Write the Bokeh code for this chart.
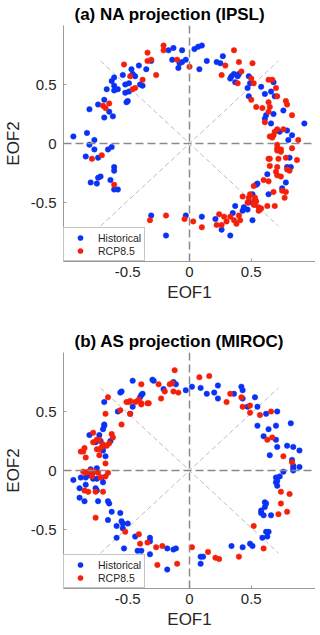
from bokeh.plotting import figure
from bokeh.layouts import column
from bokeh.models import Span, Legend, LegendItem, FixedTicker, Range1d
from bokeh.embed import file_html
from bokeh.resources import INLINE

FONT = "Liberation Sans"
TICKS = [-0.5, 0, 0.5]
TICK_LABELS = {-0.5: "-0.5", 0: "0", 0.5: "0.5"}
SERIES = ["Historical", "RCP8.5"]
COLORS = ["#0a32f5", "#f5200a"]

# reference diagonals (dashed, through origin)
DIAG_A_X = [-0.72, 0.72]
DIAG_A_Y = [0.70, -0.70]
DIAG_B_X = [-0.72, 0.72]
DIAG_B_Y = [-0.70, 0.70]

# (a) NA projection (IPSL)
na_hist_x = [-0.94, -0.83, -0.77, -0.81, -0.74, -0.69, -0.65, -0.69, -0.62, -0.67,
             -0.63, -0.61, -0.61, -0.61, -0.58, -0.54, -0.52, -0.52, -0.49, -0.49,
             -0.51, -0.47, -0.46, -0.44, -0.40, -0.38, -0.41, -0.35, -0.31, -0.17,
             -0.13, -0.14, -0.09, -0.08, -0.06, -0.03, -0.06, -0.50,
             0.04, 0.07, 0.10, 0.08, 0.14, 0.22, 0.25, 0.27, 0.34, 0.36,
             0.40, 0.37, 0.48, 0.49, 0.47, 0.48, 0.58, 0.61, 0.66, 0.68,
             0.69, 0.76, 0.68, 0.62, 0.61, 0.66, 0.73, 0.79, 0.83, 0.80,
             0.93, 0.33, 0.39,
             -0.81, -0.77, -0.84, -0.74, -0.66, -0.63, -0.61, -0.61, -0.74, -0.72,
             -0.80, -0.75, -0.64, -0.61, -0.58, -0.57, -0.31, -0.19, -0.03,
             0.81, 0.79, 0.82, 0.78, 0.75, 0.63, 0.54, 0.55, 0.64, 0.51,
             0.48, 0.44, 0.47, 0.43, 0.37, 0.35, 0.51, 0.26, 0.21, 0.10, 0.33]
na_hist_y = [0.06, 0.09, 0.03, 0.29, 0.33, 0.37, 0.27, 0.22, 0.23, 0.46,
             0.53, 0.56, 0.49, 0.45, 0.46, 0.58, 0.50, 0.43, 0.44, 0.51,
             0.35, 0.63, 0.59, 0.57, 0.50, 0.49, 0.66, 0.63, 0.70, 0.79,
             0.81, 0.71, 0.64, 0.68, 0.69, 0.71, 0.79, 0.36,
             0.80, 0.82, 0.83, 0.63, 0.70, 0.69, 0.68, 0.74, 0.57, 0.59,
             0.59, 0.52, 0.57, 0.51, 0.47, 0.40, 0.48, 0.42, 0.44, 0.52,
             0.40, 0.28, 0.25, 0.24, 0.21, 0.17, 0.10, 0.11, 0.07, 0.03,
             0.17, 0.55, 0.57,
             -0.01, -0.05, -0.11, -0.12, -0.05, -0.03, -0.20, -0.23, -0.29, -0.28,
             -0.33, -0.34, -0.31, -0.39, -0.39, -0.74, -0.61, -0.78, -0.61,
             -0.12, -0.20, -0.20, -0.33, -0.38, -0.26, -0.35, -0.34, -0.43, -0.43,
             -0.50, -0.54, -0.56, -0.57, -0.53, -0.59, -0.65, -0.73, -0.64, -0.62, -0.78]
na_rcp_x = [-0.21, -0.21, -0.34, -0.34, -0.31, -0.53, -0.48, -0.38, -0.27, -0.46,
            -0.65, -0.70, -0.68, -0.10, 0.00, -0.44,
            0.36, 0.40, 0.29, 0.26, 0.42, 0.39, 0.51, 0.50, 0.52, 0.64,
            0.67, 0.70, 0.71, 0.64, 0.65, 0.64, 0.50, 0.54, 0.59, 0.78,
            0.79, 0.83, 0.61, 0.71, 0.76, 0.69, 0.65, 0.67, 0.68, 0.71, 0.88,
            -0.79, -0.71, -0.61, -0.32, -0.19, -0.04,
            0.71, 0.71, 0.74, 0.74, 0.83, 0.78, 0.87, 0.64, 0.65, 0.72,
            0.65, 0.71, 0.70, 0.71, 0.74, 0.79, 0.81, 0.60, 0.64, 0.52,
            0.75, 0.78, 0.68, 0.77, 0.69, 0.63, 0.43, 0.49, 0.48, 0.53,
            0.52, 0.54, 0.47, 0.52, 0.53, 0.56, 0.57, 0.58, 0.56, 0.40,
            0.24, 0.28, 0.33, 0.36, 0.41, 0.38, 0.30, 0.22, 0.26, 0.03, 0.10]
na_rcp_y = [0.83, 0.79, 0.77, 0.70, 0.71, 0.67, 0.57, 0.54, 0.58, 0.46,
            0.34, 0.32, 0.30, 0.71, 0.65, 0.47,
            0.79, 0.69, 0.66, 0.58, 0.61, 0.51, 0.68, 0.55, 0.51, 0.54,
            0.54, 0.47, 0.40, 0.35, 0.31, 0.27, 0.37, 0.31, 0.30, 0.36,
            0.33, 0.24, 0.18, 0.12, 0.12, 0.10, 0.06, 0.05, 0.07, -0.01, 0.03,
            -0.13, -0.10, -0.35, -0.65, -0.61, -0.64,
            -0.04, -0.06, -0.05, -0.07, -0.04, -0.12, -0.14, -0.13, -0.13, -0.13,
            -0.19, -0.20, -0.24, -0.27, -0.28, -0.22, -0.23, -0.31, -0.32, -0.36,
            -0.40, -0.41, -0.41, -0.46, -0.53, -0.53, -0.45, -0.43, -0.46, -0.46,
            -0.49, -0.49, -0.50, -0.52, -0.52, -0.54, -0.56, -0.55, -0.57, -0.61,
            -0.60, -0.62, -0.62, -0.65, -0.65, -0.68, -0.66, -0.69, -0.69, -0.66, -0.71]

# (b) AS projection (MIROC)
as_hist_x = [-0.46, -0.30, -0.29, -0.11, -0.13, -0.21, -0.03, 0.02, -0.56, -0.55,
             -0.69, -0.38, -0.39, -0.40, -0.46, -0.48, -0.58, -0.69, -0.69, -0.70,
             -0.81, -0.73, -0.76, -0.72, -0.64, -0.69, -0.70, -0.68, -0.80, -0.75,
             0.09, 0.14, 0.20, 0.23, 0.23, 0.36, 0.42, 0.43, 0.43, 0.47,
             0.53, 0.55, 0.62, 0.71, 0.55, 0.64, 0.70, 0.82, 0.60, 0.70,
             0.71, 0.79, 0.84, 0.89, 0.65, 0.83, 0.84, 0.84, 0.89,
             -0.94, -0.88, -0.84, -0.79, -0.81, -0.78, -0.75, -0.71, -0.70, -0.84,
             -0.89, -0.76, -0.75, -0.89, -0.85, -0.74, -0.66, -0.65, -0.63, -0.56,
             -0.66, -0.55, -0.54, -0.50, -0.59, -0.54, -0.59, -0.44, -0.53, -0.42,
             -0.39, -0.32, -0.32, -0.32, -0.18, -0.13, -0.11, -0.18,
             0.76, 0.84, 0.70, 0.71, 0.70, 0.73, 0.71, 0.61, 0.62, 0.61,
             0.58, 0.58, 0.60, 0.66, 0.62, 0.64, 0.63, 0.59, 0.49, 0.51,
             0.43, 0.34, 0.11, 0.09, 0.09]
as_hist_y = [0.76, 0.77, 0.76, 0.73, 0.75, 0.69, 0.68, 0.71, 0.66, 0.67,
             0.58, 0.65, 0.64, 0.62, 0.54, 0.48, 0.50, 0.39, 0.38, 0.35,
             0.30, 0.30, 0.24, 0.25, 0.25, 0.21, 0.17, 0.12, 0.01, 0.02,
             0.70, 0.65, 0.66, 0.72, 0.61, 0.65, 0.71, 0.68, 0.61, 0.54,
             0.62, 0.54, 0.48, 0.50, 0.38, 0.35, 0.38, 0.40, 0.29, 0.26,
             0.20, 0.21, 0.20, 0.17, 0.13, 0.09, 0.04, 0.02, 0.03,
             -0.08, -0.06, -0.06, -0.03, -0.04, -0.07, -0.07, -0.06, -0.10, -0.12,
             -0.15, -0.15, -0.17, -0.23, -0.26, -0.26, -0.26, -0.28, -0.35, -0.36,
             -0.42, -0.43, -0.45, -0.45, -0.47, -0.49, -0.57, -0.56, -0.66, -0.68,
             -0.68, -0.57, -0.60, -0.71, -0.66, -0.67, -0.66, -0.84,
             -0.01, 0.00, -0.06, -0.09, -0.10, -0.05, -0.13, -0.27, -0.28, -0.31,
             -0.34, -0.36, -0.38, -0.38, -0.52, -0.52, -0.56, -0.57, -0.62, -0.64,
             -0.65, -0.64, -0.73, -0.73, -0.79]
as_rcp_x = [-0.12, -0.39, -0.25, -0.16, -0.14, -0.20, -0.13, -0.09, -0.23, -0.66,
            -0.51, -0.49, -0.48, -0.44, -0.42, -0.41, -0.39, -0.39, -0.34, -0.33,
            -0.48, -0.56, -0.68, -0.55, -0.78, -0.78, -0.75, -0.73, -0.75, -0.73,
            -0.70, -0.71, -0.67, -0.65, -0.63, -0.62, -0.88, -0.86, -0.85, -0.84,
            -0.73, -0.68,
            0.08, 0.16, 0.33, 0.30, 0.42, 0.43, 0.49, 0.49, 0.57, 0.66,
            0.63, 0.67, 0.76, 0.83,
            -0.86, -0.84, -0.82, -0.80, -0.77, -0.79, -0.74, -0.72, -0.66, -0.68,
            -0.85, -0.82, -0.76, -0.70, -0.76, -0.52, -0.41, -0.40, -0.34, -0.27,
            -0.22, -0.39, -0.26, -0.10,
            0.74, 0.81, 0.74, 0.79, 0.72, 0.52, 0.60, 0.02, 0.15, 0.21,
            0.24, 0.40]
as_rcp_y = [0.85, 0.73, 0.73, 0.73, 0.74, 0.67, 0.67, 0.66, 0.61, 0.62,
            0.58, 0.58, 0.59, 0.58, 0.59, 0.60, 0.56, 0.57, 0.57, 0.57,
            0.48, 0.51, 0.48, 0.39, 0.32, 0.24, 0.26, 0.26, 0.18, 0.18,
            0.22, 0.20, 0.21, 0.23, 0.31, 0.28, 0.16, 0.16, 0.19, 0.11,
            0.13, 0.06,
            0.79, 0.80, 0.65, 0.58, 0.62, 0.54, 0.55, 0.49, 0.47, 0.50,
            0.26, 0.28, 0.12, 0.07,
            -0.01, -0.02, -0.01, 0.00, -0.01, -0.05, -0.02, -0.06, -0.02, -0.05,
            -0.17, -0.18, -0.18, -0.18, -0.40, -0.52, -0.54, -0.62, -0.61, -0.65,
            -0.64, -0.75, -0.80, -0.79,
            -0.18, -0.20, -0.28, -0.35, -0.37, -0.47, -0.66, -0.65, -0.69, -0.74,
            -0.75, -0.73]


def make_panel(title, hx, hy, rx, ry, border_top):
    p = figure(frame_width=252, frame_height=236,
               x_range=Range1d(-1.02, 1.02), y_range=Range1d(-1, 1),
               output_backend="svg", toolbar_location=None,
               min_border_left=52, min_border_right=0,
               min_border_top=border_top, min_border_bottom=0)
    p.outline_line_color = None
    p.grid.visible = False
    p.background_fill_color = "white"

    p.title.text = title
    p.title.text_font = FONT
    p.title.text_font_size = "17px"
    p.title.text_font_style = "bold"
    p.title.text_color = "#000000"
    p.title.align = "left"
    p.title.offset = 11
    p.title.standoff = 4

    for ax in (p.xaxis[0], p.yaxis[0]):
        ax.ticker = FixedTicker(ticks=TICKS)
        ax.major_label_overrides = TICK_LABELS
        ax.major_label_text_font = FONT
        ax.major_label_text_font_size = "15px"
        ax.major_label_text_color = "#262626"
        ax.axis_line_color = "#9a9a9a"
        ax.major_tick_line_color = "#9a9a9a"
        ax.major_tick_in = 3
        ax.major_tick_out = 0
        ax.minor_tick_line_color = None
        ax.axis_label_text_font = FONT
        ax.axis_label_text_font_size = "17px"
        ax.axis_label_text_font_style = "normal"
        ax.axis_label_text_color = "#262626"
    p.xaxis.axis_label = "EOF1"
    p.yaxis.axis_label = "EOF2"
    p.xaxis.major_label_standoff = 5
    p.yaxis.major_label_standoff = 7
    p.xaxis.axis_label_standoff = 3
    p.yaxis.axis_label_standoff = 5

    p.line(DIAG_A_X, DIAG_A_Y, line_color="#bdbdbd", line_width=1, line_dash="5 3")
    p.line(DIAG_B_X, DIAG_B_Y, line_color="#bdbdbd", line_width=1, line_dash="5 3")
    p.add_layout(Span(location=0, dimension="width", line_color="#8a8a8a",
                      line_width=1.5, line_dash="8 4"))
    p.add_layout(Span(location=0, dimension="height", line_color="#8a8a8a",
                      line_width=1.5, line_dash="8 4"))

    rh = p.scatter(hx, hy, size=5.5, fill_color=COLORS[0], line_color=COLORS[0], line_width=0.5)
    rr = p.scatter(rx, ry, size=5.5, fill_color=COLORS[1], line_color=COLORS[1], line_width=0.5)

    legend = Legend(items=[LegendItem(label=SERIES[0], renderers=[rh]),
                           LegendItem(label=SERIES[1], renderers=[rr])],
                    location="bottom_left", margin=0, padding=3, spacing=0,
                    glyph_width=26, glyph_height=13, label_height=13,
                    label_standoff=5, label_text_font=FONT,
                    label_text_font_size="10.5px", label_text_color="#262626",
                    border_line_color="#8c8c8c", border_line_width=1,
                    background_fill_color="white", background_fill_alpha=1)
    p.add_layout(legend)
    return p


p1 = make_panel("(a) NA projection (IPSL)", na_hist_x, na_hist_y, na_rcp_x, na_rcp_y, 16)
p2 = make_panel("(b) AS projection (MIROC)", as_hist_x, as_hist_y, as_rcp_x, as_rcp_y, 48)

layout = column(p1, p2, spacing=0)
open("out.html", "w").write(file_html(layout, INLINE))
